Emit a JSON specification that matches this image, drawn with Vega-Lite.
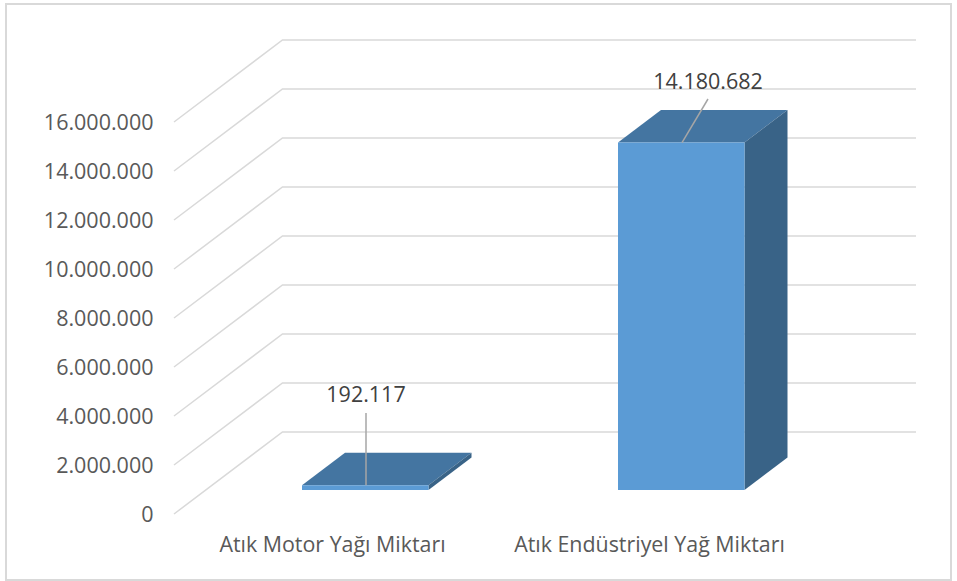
{
"$schema":"https://vega.github.io/schema/vega-lite/v6.json",
"width":945,"height":576,
"autosize":"none",
"padding":{"left":6,"top":4,"right":6,"bottom":1},
"background":"white",
"view":{"stroke":"#d9d9d9","strokeWidth":2,"fill":"white"},
"config":{"font":"Open Sans"},
"datasets":{
"grid":[
{"g":0,"x":174,"y":0},{"g":0,"x":282.5,"y":3346939},{"g":0,"x":916,"y":3346939},
{"g":2000000,"x":174,"y":2000000},{"g":2000000,"x":282.5,"y":5346939},{"g":2000000,"x":916,"y":5346939},
{"g":4000000,"x":174,"y":4000000},{"g":4000000,"x":282.5,"y":7346939},{"g":4000000,"x":916,"y":7346939},
{"g":6000000,"x":174,"y":6000000},{"g":6000000,"x":282.5,"y":9346939},{"g":6000000,"x":916,"y":9346939},
{"g":8000000,"x":174,"y":8000000},{"g":8000000,"x":282.5,"y":11346939},{"g":8000000,"x":916,"y":11346939},
{"g":10000000,"x":174,"y":10000000},{"g":10000000,"x":282.5,"y":13346939},{"g":10000000,"x":916,"y":13346939},
{"g":12000000,"x":174,"y":12000000},{"g":12000000,"x":282.5,"y":15346939},{"g":12000000,"x":916,"y":15346939},
{"g":14000000,"x":174,"y":14000000},{"g":14000000,"x":282.5,"y":17346939},{"g":14000000,"x":916,"y":17346939},
{"g":16000000,"x":174,"y":16000000},{"g":16000000,"x":282.5,"y":19346939},{"g":16000000,"x":916,"y":19346939}
],
"faces":[
{"part":"motor top","side":"top","x":302,"y":1171709,"y2":1171709},
{"part":"motor top","side":"top","x":345,"y":2498240,"y2":1171709},
{"part":"motor top","side":"top","x":428.5,"y":2498240,"y2":1171709},
{"part":"motor top","side":"top","x":471.5,"y":2498240,"y2":2498240},
{"part":"motor right","side":"right","x":428.5,"y":1171709,"y2":979592},
{"part":"motor right","side":"right","x":471.5,"y":2498240,"y2":2306123},
{"part":"motor front","side":"front","x":302,"y":1171709,"y2":979592},
{"part":"motor front","side":"front","x":428.5,"y":1171709,"y2":979592},
{"part":"endustriyel top","side":"top","x":618,"y":15160274,"y2":15160274},
{"part":"endustriyel top","side":"top","x":661,"y":16486805,"y2":15160274},
{"part":"endustriyel top","side":"top","x":744.5,"y":16486805,"y2":15160274},
{"part":"endustriyel top","side":"top","x":787.5,"y":16486805,"y2":16486805},
{"part":"endustriyel right","side":"right","x":744.5,"y":15160274,"y2":979592},
{"part":"endustriyel right","side":"right","x":787.5,"y":16486805,"y2":2306123},
{"part":"endustriyel front","side":"front","x":618,"y":15160274,"y2":979592},
{"part":"endustriyel front","side":"front","x":744.5,"y":15160274,"y2":979592}
],
"leaders":[
{"k":"motor","x":366,"y":1171709},{"k":"motor","x":366,"y":4122449},
{"k":"endustriyel","x":682,"y":15160274},{"k":"endustriyel","x":708,"y":16938776}
],
"labels":[
{"label":"192.117","value":192117,"x":366,"y":4800000},
{"label":"14.180.682","value":14180682,"x":708,"y":17591837}
]
},
"encoding":{
"x":{"field":"x","type":"quantitative","title":null,
"scale":{"domain":[6,951],"nice":false,"zero":false},
"axis":{"values":[332,649],"domain":false,"ticks":false,"grid":false,"offset":-46,"labelPadding":0,"labelFontSize":21.4,"labelLimit":500,"labelColor":"#595959","labelFont":"Open Sans","labelOverlap":false,"labelFlush":false,
"labelExpr":"datum.value==332?'Atık Motor Yağı Miktarı':'Atık Endüstriyel Yağ Miktarı'"}},
"y":{"field":"y","type":"quantitative","title":null,
"scale":{"domain":[-2693878,20816327],"nice":false,"zero":false},
"axis":{"values":[0,2000000,4000000,6000000,8000000,10000000,12000000,14000000,16000000],"domain":false,"ticks":false,"grid":false,"offset":-147,"labelPadding":0,"labelOffset":1,"labelFontSize":21.5,"labelLimit":300,"labelColor":"#595959","labelFont":"Open Sans","labelOverlap":false,"labelFlush":false,
"labelExpr":"replace(format(datum.value,','),/,/g,'.')"}}
},
"layer":[
{"data":{"name":"grid"},"mark":{"type":"line","stroke":"#d9d9d9","strokeWidth":1.5},"encoding":{"detail":{"field":"g"}}},
{"data":{"name":"faces"},"mark":{"type":"area","opacity":1},"encoding":{"y2":{"field":"y2"},"detail":{"field":"part"},
"color":{"field":"side","type":"nominal","legend":null,"scale":{"domain":["front","top","right"],"range":["#5b9bd5","#4475a1","#396387"]}}}},
{"data":{"name":"leaders"},"mark":{"type":"line","stroke":"#a6a6a6","strokeWidth":1.5},"encoding":{"detail":{"field":"k"}}},
{"data":{"name":"labels"},"mark":{"type":"text","fontSize":21.5,"font":"Open Sans","fill":"#404040","align":"center","baseline":"middle"},"encoding":{"text":{"field":"label"}}}
]
}
